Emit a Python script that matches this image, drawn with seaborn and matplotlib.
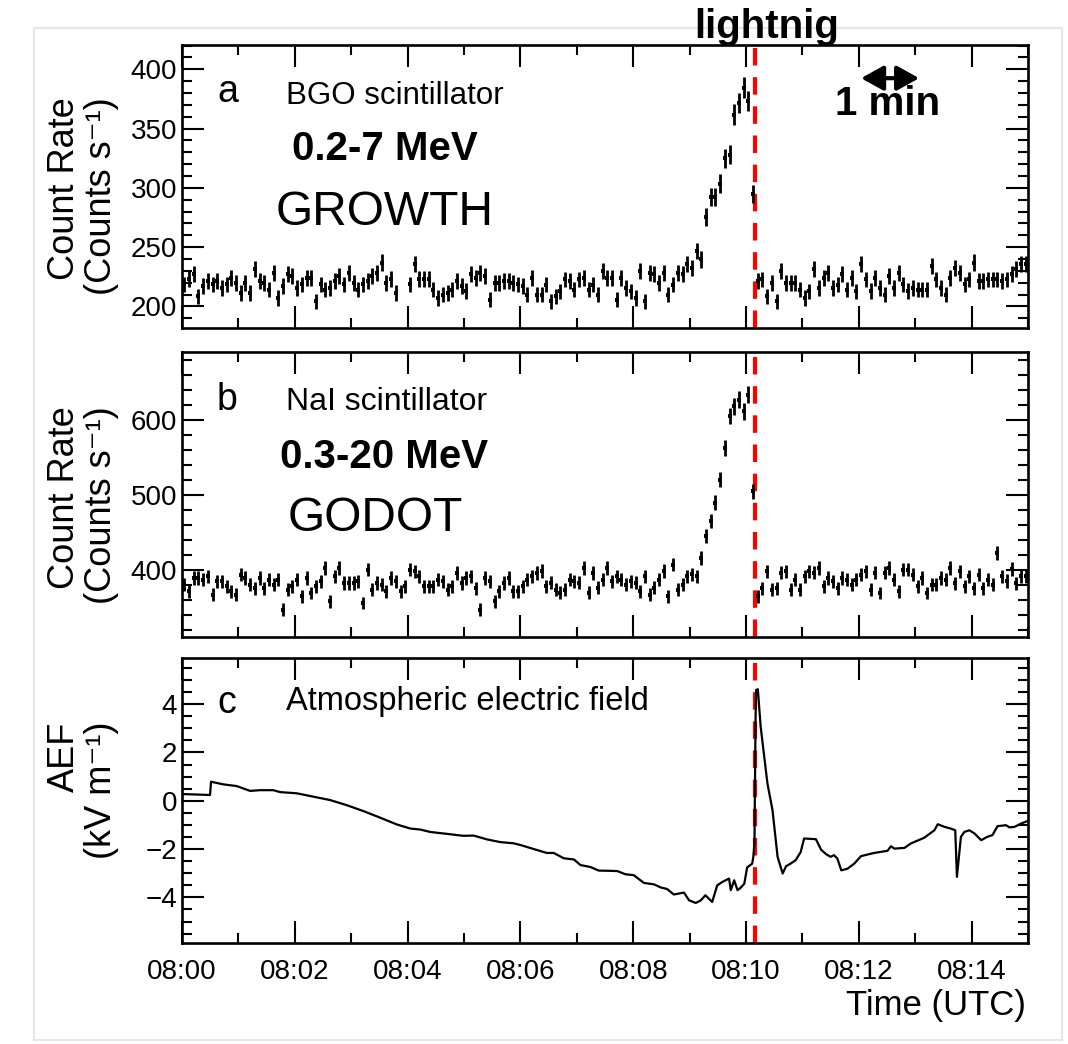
import numpy as np
import pandas as pd
import matplotlib
matplotlib.use("Agg")
import matplotlib.pyplot as plt
import seaborn as sns
from matplotlib.ticker import MultipleLocator, FixedLocator, FixedFormatter, NullFormatter
from matplotlib.patches import Rectangle

# ---------------- data ----------------
bin_seconds = 5  # 5 s bins, 180 bins over 15 minutes (08:00-08:15 UTC)

bgo_rate = [
    218.5, 222.8, 227.0, 208.6, 217.0, 221.3, 218.5, 221.3, 215.7, 218.5,
    224.2, 219.9, 211.4, 219.9, 211.4, 231.3, 221.3, 219.9, 214.2, 228.4,
    207.1, 217.0, 227.0, 225.6, 215.7, 218.5, 224.2, 224.2, 204.3, 218.5,
    214.2, 215.7, 221.3, 225.6, 218.5, 228.4, 219.9, 214.2, 218.5, 221.3,
    225.6, 228.4, 237.0, 219.9, 222.8, 211.4, np.nan, np.nan, 218.5, 235.5,
    222.8, 222.8, 222.8, 214.2, 207.1, 210.0, 211.4, 214.2, 221.3, 217.0,
    212.8, 227.0, 224.2, 228.4, 225.6, 205.7, 219.9, 219.9, 221.3, 221.3,
    219.9, 218.5, 217.0, 209.9, 224.1, 209.9, 209.9, 218.4, 204.2, 208.5,
    212.7, 222.7, 221.3, 214.2, 222.7, 224.1, 214.2, 218.4, 209.9, 229.8,
    224.1, 224.1, 205.6, 224.1, 215.6, 212.7, 207.1, 229.8, 204.2, 228.4,
    226.9, 219.8, 228.4, 209.9, 218.4, 228.4, 226.9, 235.5, 232.6, 246.8,
    239.7, 275.2, 292.3, 292.3, 303.6, 324.9, 327.8, 361.8, 371.8, 384.6,
    373.2, 295.1, 221.3, 222.7, 208.5, 219.8, 204.2, 229.8, 219.8, 219.8,
    219.8, 214.2, 207.1, 212.7, 231.2, 215.6, 224.1, 228.4, 215.6, 218.4,
    226.9, 214.2, 224.1, 212.7, 235.5, 222.7, 212.8, 224.2, 215.6, 210.0,
    225.6, 215.6, 228.4, 218.5, 212.8, 215.6, 214.2, 214.2, 214.2, 234.1,
    222.7, 215.6, 210.0, 224.2, 232.7, 228.4, 218.5, 222.7, 236.9, 221.3,
    221.3, 222.7, 222.7, 222.7, 221.3, 222.7, 227.0, 231.3, 235.5, 235.5,
]

nai_rate = [
    380.0, 371.1, 388.9, 388.9, 386.7, 391.1, 366.7, 384.5, 384.5, 377.8,
    371.1, 366.7, 393.3, 388.9, 380.0, 375.6, 388.9, 375.6, 386.7, 380.0,
    386.7, 346.7, 373.4, 377.8, 386.7, 364.5, 388.9, 368.9, 377.8, 384.5,
    402.2, 357.8, 391.1, 402.2, 382.2, 382.2, 382.2, 384.5, 355.6, 400.0,
    373.4, 382.2, 380.0, 371.1, 388.9, 384.5, 371.1, 377.8, 400.0, 397.8,
    391.1, 377.8, 377.8, 377.8, 386.7, 384.5, 373.4, 377.8, 395.6, 382.2,
    388.9, 391.1, 375.6, 346.7, 388.9, 384.5, 357.8, 371.1, 382.2, 388.9,
    371.1, 371.1, 378.0, 386.9, 391.3, 395.8, 398.0, 378.0, 382.5, 373.6,
    369.1, 373.6, 386.9, 384.7, 382.5, 402.4, 369.1, 395.8, 375.8, 386.9,
    402.4, 384.7, 391.3, 386.9, 380.2, 384.7, 382.5, 371.4, 391.3, 366.9,
    375.8, 386.9, 398.0, 364.7, 406.9, 373.6, 380.2, 391.3, 393.6, 391.3,
    415.8, 444.6, 464.6, 489.0, 520.1, 562.3, 604.5, 617.8, 626.7, 611.1,
    633.3, 504.5, 364.4, 375.6, 397.8, 373.3, 375.6, 396.0, 397.8, 373.3,
    386.7, 373.3, 391.0, 397.8, 396.0, 402.4, 378.0, 389.0, 384.5, 375.6,
    389.0, 386.7, 380.0, 386.7, 393.3, 397.8, 373.3, 396.0, 369.0, 396.0,
    402.4, 386.7, 371.0, 400.0, 400.0, 393.3, 378.0, 389.0, 369.0, 380.0,
    380.0, 389.0, 386.7, 402.4, 382.0, 397.8, 378.0, 391.0, 375.6, 393.3,
    375.6, 386.7, 380.0, 422.7, 391.0, 385.0, 401.0, 382.0, 391.0, 391.0,
]

aef_time_min = [
    0.0, 0.497, 0.515, 0.734, 0.97, 1.207, 1.385, 1.62, 1.74, 2.036, 2.33,
    2.627, 2.92, 3.22, 3.515, 3.81, 4.05, 4.225, 4.40, 4.70, 4.99, 5.17,
    5.41, 5.645, 5.88, 6.0, 6.24, 6.47, 6.59, 6.77, 6.95, 7.065, 7.24, 7.39,
    7.6, 7.72, 7.86, 8.01, 8.19, 8.37, 8.49, 8.60, 8.72, 8.90, 8.99, 9.11,
    9.20, 9.28, 9.40, 9.49, 9.58, 9.70, 9.73, 9.79, 9.85, 9.91, 9.97, 10.02,
    10.11, 10.13, 10.15, 10.17, 10.18, 10.21, 10.26, 10.38, 10.47, 10.56,
    10.65, 10.71, 10.79, 10.88, 10.97, 11.03, 11.24, 11.33, 11.42, 11.50,
    11.56, 11.62, 11.69, 11.80, 11.92, 12.04, 12.27, 12.51, 12.57, 12.63,
    12.81, 12.92, 13.16, 13.34, 13.40, 13.52, 13.63, 13.71, 13.74, 13.81,
    13.87, 13.96, 14.05, 14.17, 14.28, 14.37, 14.46, 14.61, 14.67, 14.76,
    14.88, 15.0,
]
aef_kv_m = [
    0.28, 0.24, 0.79, 0.68, 0.61, 0.41, 0.44, 0.44, 0.36, 0.31, 0.17,
    0.03, -0.18, -0.43, -0.70, -0.98, -1.15, -1.19, -1.29, -1.37, -1.45, -1.44,
    -1.60, -1.71, -1.76, -1.83, -2.00, -2.16, -2.16, -2.38, -2.43, -2.66, -2.74, -2.89,
    -2.90, -2.91, -3.04, -3.08, -3.40, -3.46, -3.59, -3.65, -3.88, -3.80, -4.12, -4.23,
    -4.12, -3.91, -4.19, -3.50, -3.36, -3.22, -3.70, -3.29, -3.70, -3.59, -3.43, -2.76,
    -2.60, -2.32, -1.77, 3.49, 4.59, 4.62, 3.07, 0.72, -0.39, -2.32,
    -3.01, -2.71, -2.60, -2.46, -2.12, -1.56, -1.59, -2.02, -2.21, -2.32,
    -2.25, -2.39, -2.88, -2.81, -2.60, -2.29, -2.16, -2.07, -1.88, -1.98,
    -1.95, -1.77, -1.53, -1.22, -0.97, -1.08, -1.15, -1.22, -3.15, -1.50,
    -1.29, -1.22, -1.35, -1.63, -1.49, -1.42, -1.05, -1.01, -1.10, -1.08,
    -0.94, -0.83,
]

lightning_min = 10.155
time_tick_min = [0, 2, 4, 6, 8, 10, 12, 14]
time_labels = ["08:00", "08:02", "08:04", "08:06", "08:08", "08:10", "08:12", "08:14"]

# ---------------- style ----------------
sns.set_theme(style="white")
plt.rcParams["font.family"] = ["Liberation Sans", "DejaVu Sans"]
plt.rcParams["axes.unicode_minus"] = True
plt.rcParams["axes.grid"] = False
for k in ["text.color", "axes.labelcolor", "xtick.color", "ytick.color",
          "axes.edgecolor", "xtick.labelcolor", "ytick.labelcolor"]:
    plt.rcParams[k] = "black"
plt.rcParams.update({
    "xtick.direction": "in", "ytick.direction": "in",
    "xtick.top": True, "xtick.bottom": True,
    "ytick.left": True, "ytick.right": True,
    "xtick.major.size": 16, "ytick.major.size": 16,
    "xtick.minor.size": 7.5, "ytick.minor.size": 7.5,
    "xtick.major.width": 1.5, "ytick.major.width": 1.5,
    "xtick.minor.width": 1.5, "ytick.minor.width": 1.5,
    "xtick.labelsize": 20, "ytick.labelsize": 20,
    "xtick.major.pad": 11, "ytick.major.pad": 3.5,
    "axes.linewidth": 1.9,
})

W, H = 1068, 1044
fig = plt.figure(figsize=(W / 100, H / 100), dpi=100)


def fx(x):
    return x / W


def fy(y):
    return 1 - y / H


left, right = 182, 1028
panels_px = [(45, 328.3), (352, 636.5), (658.3, 943.3)]
axes = [fig.add_axes([fx(left), fy(b), (right - left) / W, (b - t) / H])
        for t, b in panels_px]

# x axis in seconds after 08:00
nbins = len(bgo_rate)
t_sec = (np.arange(nbins) + 0.5) * bin_seconds
df = pd.DataFrame({"t": t_sec, "bgo": bgo_rate, "nai": nai_rate})
df["bgo_err"] = np.sqrt(df["bgo"] * bin_seconds) / bin_seconds
df["nai_err"] = np.sqrt(df["nai"] * bin_seconds) / bin_seconds
aef = pd.DataFrame({"t": np.array(aef_time_min) * 60.0, "aef": aef_kv_m})
lightning_sec = lightning_min * 60.0
tick_sec = [m * 60.0 for m in time_tick_min]

red = "#ff0000"

for ax, col in [(axes[0], "bgo"), (axes[1], "nai")]:
    ax.axvline(lightning_sec, color=red, lw=3.0, dashes=(4.2, 2.8), zorder=1)
    ax.errorbar(df["t"], df[col], yerr=df[col + "_err"], fmt="none",
                ecolor="black", elinewidth=2.0, capsize=0, zorder=3)
    sns.scatterplot(data=df, x="t", y=col, ax=ax, marker="s", s=12,
                    color="black", linewidth=0, zorder=4)

axes[2].axvline(lightning_sec, color=red, lw=3.0, dashes=(4.2, 2.8), zorder=1)
sns.lineplot(data=aef, x="t", y="aef", ax=axes[2], color="black", lw=1.6,
             estimator=None, sort=False, zorder=3)

# limits & ticks
ylims = [(181.5, 420.5), (311, 690), (-5.9, 5.9)]
ymaj = [50, 100, 2]
ymin = [10, 20, 0.5]
for ax, yl, mj, mn in zip(axes, ylims, ymaj, ymin):
    ax.set_xlim(0, 900)
    ax.set_ylim(*yl)
    ax.xaxis.set_major_locator(FixedLocator(tick_sec))
    ax.xaxis.set_minor_locator(MultipleLocator(60))
    ax.yaxis.set_major_locator(MultipleLocator(mj))
    ax.yaxis.set_minor_locator(MultipleLocator(mn))
    ax.set_xlabel("")
    ax.set_ylabel("")

axes[0].xaxis.set_major_formatter(NullFormatter())
axes[1].xaxis.set_major_formatter(NullFormatter())
axes[2].xaxis.set_major_formatter(FixedFormatter(time_labels))

# y labels
txt_kw = dict(rotation=90, ha="center", va="center", multialignment="right",
              fontsize=26, linespacing=1.05)
fig.text(fx(83), fy(196), "Count Rate\n(Counts s\u207b\u00b9)", **txt_kw)
fig.text(fx(83), fy(505), "Count Rate\n(Counts s\u207b\u00b9)", **txt_kw)
fig.text(fx(83), fy(790), "AEF\n(kV m\u207b\u00b9)", **txt_kw)
fig.text(fx(1026), fy(1005), "Time (UTC)", ha="right", va="center", fontsize=25)

# annotations
fig.text(fx(767), fy(38), "lightnig", ha="center", va="baseline",
         fontsize=29, fontweight="bold")
fig.text(fx(217), fy(102), "a", ha="left", va="baseline", fontsize=27)
fig.text(fx(286), fy(104), "BGO scintillator", ha="left", va="baseline", fontsize=22.5)
fig.text(fx(292), fy(160), "0.2-7 MeV", ha="left", va="baseline", fontsize=29,
         fontweight="bold")
fig.text(fx(276), fy(225), "GROWTH", ha="left", va="baseline", fontsize=34.5)

fig.text(fx(217), fy(410), "b", ha="left", va="baseline", fontsize=27)
fig.text(fx(286), fy(410), "NaI scintillator", ha="left", va="baseline", fontsize=23)
fig.text(fx(280), fy(468), "0.3-20 MeV", ha="left", va="baseline", fontsize=29,
         fontweight="bold")
fig.text(fx(288), fy(531), "GODOT", ha="left", va="baseline", fontsize=34.5)

fig.text(fx(217), fy(713), "c", ha="left", va="baseline", fontsize=27)
fig.text(fx(286), fy(710), "Atmospheric electric field", ha="left", va="baseline",
         fontsize=23.5)

fig.text(fx(835), fy(115), "1 min", ha="left", va="baseline", fontsize=29,
         fontweight="bold")
axes[0].annotate("", xy=(13.07 * 60, 392.5), xytext=(12.04 * 60, 392.5),
                 arrowprops=dict(arrowstyle="<|-|>,head_length=0.45,head_width=0.25",
                                 lw=3, color="black", mutation_scale=30,
                                 shrinkA=0, shrinkB=0))

# faint card border
fig.add_artist(Rectangle((fx(34), fy(1040)), fx(1062) - fx(34), fy(28) - fy(1040),
                         transform=fig.transFigure, fill=False,
                         edgecolor="#e6e6e6", lw=1.5, zorder=0))

fig.savefig("out.png", dpi=100, facecolor="white")
